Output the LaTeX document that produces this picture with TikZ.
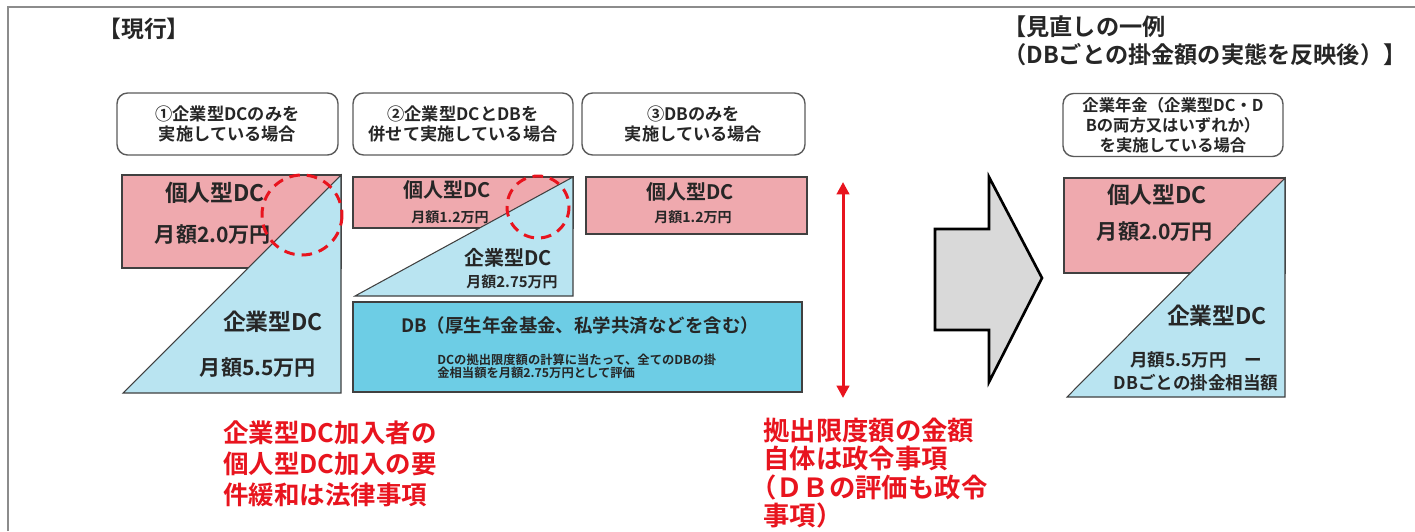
\documentclass[tikz,border=0pt]{standalone}
\usepackage{fontspec}
\setmainfont{Noto Sans CJK JP}[BoldFont={Noto Sans CJK JP Bold}]
\usetikzlibrary{arrows.meta}

\definecolor{dcpink}{HTML}{EFA9AE}
\definecolor{dcblue}{HTML}{B9E4F1}
\definecolor{dbcyan}{HTML}{6DCDE5}
\definecolor{edgegray}{HTML}{404040}
\definecolor{boxgray}{HTML}{5A5A5A}
\definecolor{framegray}{HTML}{8C8C8C}
\definecolor{notered}{HTML}{E8141E}
\definecolor{inkgray}{HTML}{262626}
\definecolor{arrowfill}{HTML}{D9D9D9}

\tikzset{
  casebox/.style={draw=boxgray, line width=0.8pt, rounded corners=6pt, align=center, inner sep=0pt, text=inkgray, font=\fontsize{9.8pt}{11.3pt}\selectfont\bfseries},
  titletext/.style={inner sep=0pt, text=inkgray, font=\fontsize{13pt}{15.9pt}\selectfont\bfseries},
  blocktext/.style={inner sep=0pt, text=inkgray, font=\fontsize{#1}{#1}\selectfont\bfseries},
  pinkblock/.style={fill=dcpink, draw=edgegray, line width=0.6pt},
  blueblock/.style={fill=dcblue, draw=edgegray, line width=0.6pt},
  dbblock/.style={fill=dbcyan, draw=edgegray, line width=0.8pt},
  ringmark/.style={draw=notered, line width=1.7pt, dash pattern=on 6pt off 4pt},
  limarrow/.style={draw=notered, line width=1.7pt, {Triangle[length=7pt,width=7pt]}-{Triangle[length=7pt,width=7pt]}},
  shiftarrow/.style={fill=arrowfill, draw=black, line width=1.5pt, line join=miter},
  notetext/.style={inner sep=0pt, anchor=west, align=left, text=notered},
}

\begin{document}
\begin{tikzpicture}[x=0.02cm,y=-0.02cm]
\useasboundingbox (0,0) rectangle (1415,531);
\draw[framegray, line width=1pt] (8,531) -- (8,7) -- (1415,7); % marco

\node[titletext] (nowtitle) at (144,29) {【現行】}; % titulo 1
\node[titletext, anchor=west, align=left, font=\fontsize{13.2pt}{15.9pt}\selectfont\bfseries] (newtitle) at (1003,41) {【見直しの一例\\（DBごとの掛金額の実態を反映後）】}; % titulo 2

\node[casebox, minimum width=4.42cm, minimum height=1.24cm] (case1) at (227.5,124) {①企業型DCのみを\\実施している場合}; % caso 1
\node[casebox, minimum width=4.40cm, minimum height=1.24cm] (case2) at (463,124) {②企業型DCとDBを\\併せて実施している場合}; % caso 2
\node[casebox, minimum width=4.46cm, minimum height=1.24cm] (case3) at (693.5,124) {③DBのみを\\実施している場合}; % caso 3
\node[casebox, minimum width=4.40cm, minimum height=1.26cm, font=\fontsize{9.3pt}{11.3pt}\selectfont\bfseries] (case4) at (1173,125) {企業年金（企業型DC・D\\Bの両方又はいずれか）\\を実施している場合}; % caso nuevo

\draw[pinkblock] (122,175) rectangle (341,268); % bloque 1 rosa
\draw[blueblock] (123,393) -- (341,175) -- (341,393) -- cycle; % bloque 1 azul
\node[blocktext=13pt] (p1name) at (215,193) {個人型DC};
\node[blocktext=12pt] (p1amt) at (213,235) {月額2.0万円};
\node[blocktext=13pt] (c1name) at (273,322) {企業型DC};
\node[blocktext=12pt] (c1amt) at (258,368) {月額5.5万円};
\draw[ringmark] (302,215) circle (40); % circulo 1

\draw[pinkblock] (353,177) rectangle (573,228); % bloque 2 rosa
\draw[blueblock] (355,296) -- (573,177) -- (573,296) -- cycle; % bloque 2 azul
\node[blocktext=11.4pt] (p2name) at (447,190) {個人型DC};
\node[blocktext=8pt] (p2amt) at (450,217) {月額1.2万円};
\node[blocktext=11.4pt] (c2name) at (508,258) {企業型DC};
\node[blocktext=8.5pt] (c2amt) at (512,282) {月額2.75万円};
\draw[ringmark] (538,207) circle (31); % circulo 2

\draw[pinkblock] (586,177) rectangle (807,234); % bloque 3 rosa
\node[blocktext=11.4pt] (p3name) at (690,192) {個人型DC};
\node[blocktext=8pt] (p3amt) at (693,217) {月額1.2万円};

\draw[dbblock] (353,302) rectangle (802,392); % bloque DB
\node[blocktext=10.5pt] (dbname) at (580,325) {DB（厚生年金基金、私学共済などを含む）};
\node[blocktext=7pt, font=\fontsize{7pt}{7.4pt}\selectfont\bfseries, anchor=west, align=left] (dbnote) at (437,366.5) {DCの拠出限度額の計算に当たって、全てのDBの掛\\金相当額を月額2.75万円として評価};

\coordinate (limtop) at (843,182);
\coordinate (limbot) at (843,398);
\draw[limarrow] (limtop) -- (limbot); % flecha roja

\draw[shiftarrow] (935,229) -- (989,229) -- (989,177) -- (1042,278) -- (989,382) -- (989,330) -- (935,330) -- cycle; % flecha gris

\draw[pinkblock] (1064,178) rectangle (1285,273); % bloque nuevo rosa
\draw[blueblock] (1067,397) -- (1285,178) -- (1285,397) -- cycle; % bloque nuevo azul
\node[blocktext=13pt] (p4name) at (1157,195) {個人型DC};
\node[blocktext=12pt] (p4amt) at (1155,232) {月額2.0万円};
\node[blocktext=13pt] (c4name) at (1217,316) {企業型DC};
\node[blocktext=10pt, font=\fontsize{10pt}{13pt}\selectfont\bfseries, align=center] (c4amt) at (1196,371.5) {月額5.5万円　ー\\DBごとの掛金相当額};

\node[notetext, font=\fontsize{14.5pt}{17.6pt}\selectfont\bfseries] (lawnote) at (223,464) {企業型DC加入者の\\個人型DC加入の要\\件緩和は法律事項}; % texto rojo 1
\node[notetext, font=\fontsize{15pt}{16.2pt}\selectfont\bfseries] (ordernote) at (763,473) {拠出限度額の金額\\自体は政令事項\\\kern-0.5em（ＤＢの評価も政令\\事項）}; % texto rojo 2
\end{tikzpicture}
\end{document}
